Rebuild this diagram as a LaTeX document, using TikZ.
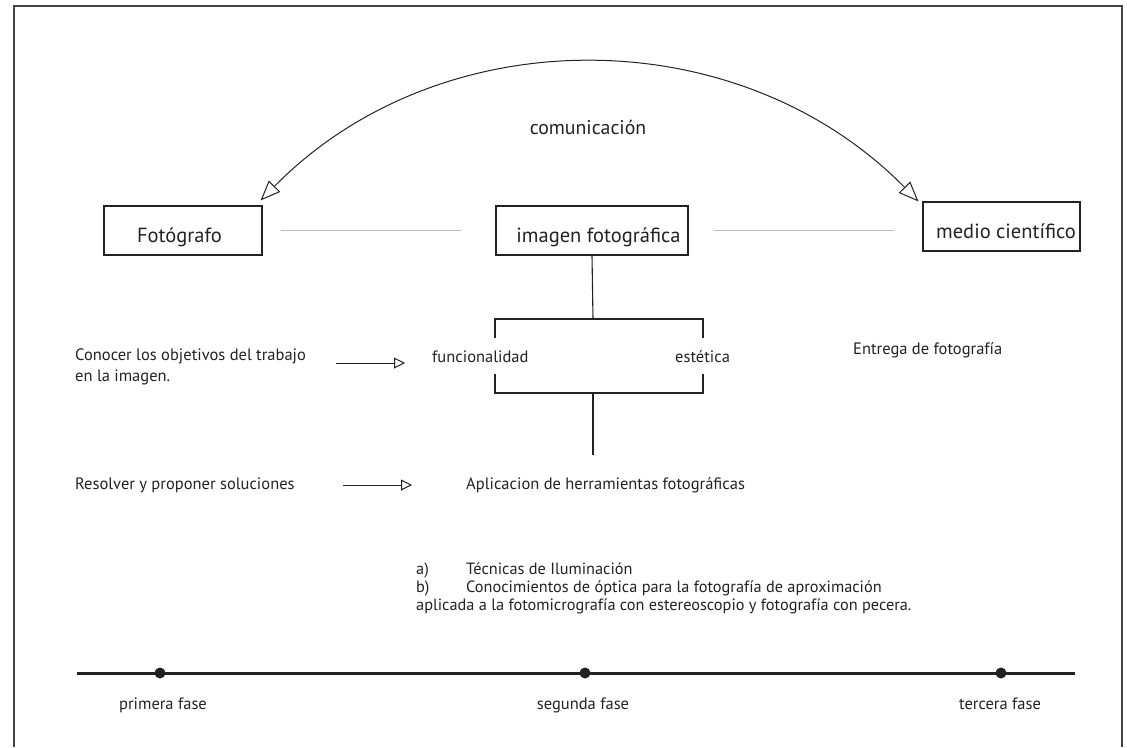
\documentclass[tikz,border=0pt]{standalone}
\usepackage{fontspec}
\setmainfont{PT Sans}
\usetikzlibrary{arrows.meta}
\definecolor{ink}{HTML}{222222}
\definecolor{frameline}{HTML}{444444}
\definecolor{thin}{HTML}{BBBBBB}
\begin{document}
\begin{tikzpicture}[x=1pt,y=-1pt,
  font=\fontsize{16.5}{21}\selectfont,
  box/.style={draw=ink, line width=1.1pt, inner sep=0pt, minimum height=49pt,
    text height=24pt, text depth=0pt, font=\fontsize{20.5}{24}\selectfont, text=ink},
  txt/.style={inner sep=0pt, anchor=west, text height=12pt, text depth=3.5pt, text=ink},
  txtc/.style={txt, anchor=center},
  blk/.style={inner sep=0pt, anchor=north west, align=left, text=ink},
  ln/.style={draw=ink, line width=1.1pt},
  grayln/.style={draw=thin, line width=0.8pt},
  bigarrow/.style={draw=ink, line width=1pt,
    {Triangle[open,length=20pt,width=16pt]}-{Triangle[open,length=20pt,width=16pt]}},
  smallarrow/.style={draw=ink, line width=1pt, -{Triangle[open,length=11pt,width=11pt]}},
  dot/.style={circle, fill=ink, inner sep=0pt, minimum size=11pt}
]
\useasboundingbox (0,0) rectangle (1127,747);

% frame (open at the bottom)
\draw[frameline, line width=1.5pt] (14,747) -- (14,6) -- (1122,6) -- (1122,747);

% boxes
\node[box, minimum width=158pt] (foto) at (183,230.5) {\hspace*{-7pt}Fotógrafo};
\node[box, minimum width=192pt] (img) at (592,230.5) {\hspace*{13pt}imagen fotográfica};
\node[box, minimum width=157pt] (medio) at (1001.5,226.5) {\hspace*{9pt}medio científico};

% thin gray links
\draw[grayln, shorten <=18pt, shorten >=34pt] (foto.east) -- (img.west);
\draw[grayln, shorten <=25pt, shorten >=28pt] (img.east) -- (img.east -| medio.west);

% communication arc
\draw[bigarrow] ([shift={(-2,-5)}]foto.north east)
  .. controls +(180,-183) and +(-180,-183) .. ([shift={(-4,0)}]medio.north west);
\node[txtc, font=\fontsize{19.8}{23}\selectfont] (com) at (588,130) {comunicación};

% bracket structure
\node[txt] (func) at (432,358) {funcionalidad};
\node[txt] (est) at (675,358) {estética};
\coordinate (btop) at (593,319);
\coordinate (bbot) at (593,393);
\coordinate (bend) at (593,455);
\draw[ln] (img.south) -- (btop);
\draw[ln] (495,338) -- (495,319) -- (703,319) -- (703,338);
\draw[ln] (495,374) -- (495,393) -- (703,393) -- (703,374);
\draw[ln] (bbot) -- (bend);

% left column
\node[blk] (con) at (75,349) {Conocer los objetivos del trabajo\\en la imagen.};
\draw[smallarrow, shorten <=30pt, shorten >=27pt] ([yshift=-5pt]con.east |- func.west) -- ([yshift=-5pt]func.west);

\node[txt] (ent) at (853,350) {Entrega de fotografía};

\node[txt] (res) at (75,485) {Resolver y proponer soluciones};
\node[txt] (apl) at (466,485) {Aplicacion de herramientas fotográficas};
\draw[smallarrow, shorten <=48pt, shorten >=54pt] (res.east) -- (apl.west);

\node[blk, font=\fontsize{16.3}{17.6}\selectfont] (tec) at (416,563)
  {\makebox[50pt][l]{a)}Técnicas de Iluminación\\
   \makebox[50pt][l]{b)}Conocimientos de óptica para la fotografía de aproximación\\
   aplicada a la fotomicrografía con estereoscopio y fotografía con pecera.};

% timeline
\coordinate (tl) at (77,673);
\coordinate (tr) at (1075,673);
\draw[draw=ink, line width=3pt] (tl) -- (tr);
\node[dot] (d1) at (160,673) {};
\node[dot] (d2) at (585,673) {};
\node[dot] (d3) at (1001,673) {};
\node[txtc, font=\fontsize{16.5}{20}\selectfont] (f1) at (163,705) {primera fase};
\node[txtc, font=\fontsize{16.5}{20}\selectfont] (f2) at (583,705) {segunda fase};
\node[txtc, font=\fontsize{16.5}{20}\selectfont] (f3) at (1000,705) {tercera fase};
\end{tikzpicture}
\end{document}
